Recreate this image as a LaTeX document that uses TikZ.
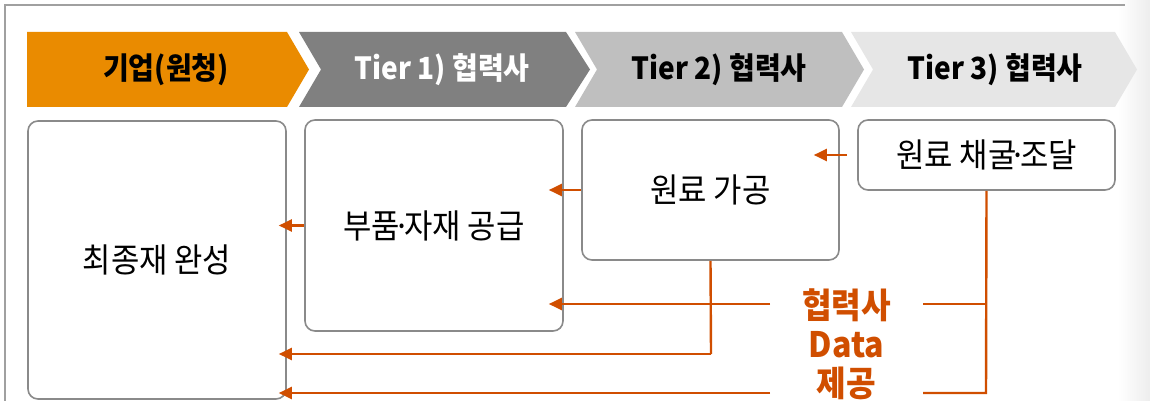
\documentclass[tikz,border=0pt]{standalone}
\usepackage{fontspec}
\setmainfont{Noto Sans CJK KR}[FakeStretch=0.92]
\usetikzlibrary{arrows.meta}
\definecolor{chevA}{HTML}{EA8B00}
\definecolor{chevB}{HTML}{808080}
\definecolor{chevC}{HTML}{BFBFBF}
\definecolor{chevD}{HTML}{E6E6E6}
\definecolor{flow}{HTML}{D04E00}
\definecolor{boxline}{HTML}{8A8A8A}
\definecolor{frameline}{HTML}{A0A0A0}
\newcommand{\mdot}{\kern-0.2em·\kern-0.2em}
\tikzset{
  stagebox/.style={draw=boxline, line width=1.6pt, rounded corners=10pt, fill=white, inner sep=0pt,
    font=\fontsize{33.5}{38}\selectfont},
  chevtext/.style={font=\bfseries\fontsize{30.5}{34}\selectfont, inner sep=0pt},
  flowarrow/.style={draw=flow, line width=2.4pt, -{Triangle[length=13pt,width=12pt]}},
  flowline/.style={draw=flow, line width=2.4pt},
  datatext/.style={text=flow, font=\bfseries\fontsize{35}{39}\selectfont, align=center, inner sep=0pt}
}
\begin{document}
\begin{tikzpicture}[x=1pt,y=-1pt]
\useasboundingbox (0,0) rectangle (1150,401);
% right shadow
\shade[left color=white, right color=black!7] (1118,0) rectangle (1150,401);
% frame
\draw[frameline, line width=1.4pt] (5,401) -- (5,5) -- (1125,5);
% chevrons
\fill[chevA] (27,32) -- (287,32) -- (309,69.5) -- (287,107) -- (27,107) -- cycle;
\fill[chevB] (299,32) -- (566,32) -- (590,69.5) -- (566,107) -- (299,107) -- (321,69.5) -- cycle;
\fill[chevC] (575,32) -- (842,32) -- (864,69.5) -- (842,107) -- (575,107) -- (597,69.5) -- cycle;
\fill[chevD] (851,32) -- (1115,32) -- (1137,69.5) -- (1115,107) -- (851,107) -- (873,69.5) -- cycle;
\node[chevtext, text=black] (h0) at (166,70) {기업(원청)};
\node[chevtext, text=white] (h1) at (442,70) {Tier 1) 협력사};
\node[chevtext, text=black] (h2) at (719,70) {Tier 2) 협력사};
\node[chevtext, text=black] (h3) at (995,70) {Tier 3) 협력사};
% boxes
\node[stagebox, minimum width=258pt, minimum height=278pt] (A) at (157,260) {최종재 완성};
\node[stagebox, minimum width=258pt, minimum height=211pt] (B) at (434,225.5) {부품\mdot 자재 공급};
\node[stagebox, minimum width=257pt, minimum height=140pt] (C) at (710.5,190) {원료 가공};
\node[stagebox, minimum width=257pt, minimum height=70pt] (D) at (986.5,155) {원료 채굴\mdot 조달};
% data label
\node[datatext] (dt) at (846.5,344) {협력사\\Data\\제공};
% named points
\coordinate (d1) at (986,304);
\coordinate (d2) at (986,393);
\coordinate (g1r) at (923,304);
\coordinate (g2r) at (923,393);
\coordinate (g1l) at (770,304);
\coordinate (g2l) at (770,393);
\coordinate (c1) at (711,354);
% forward arrows
\draw[flowarrow] ([xshift=-10pt]D.west) -- ([xshift=-26pt]C.east |- D.west);
\draw[flowarrow] (C.west) -- ([xshift=-15pt]B.east |- C.west);
\draw[flowarrow] (B.west) -- ([xshift=-8pt]A.east |- B.west);
% data feedback lines
\draw[flowline] (D.south) -- (d2) -- (g2r);
\draw[flowline] (d1) -- (g1r);
\draw[flowarrow] (g1l) -- ([xshift=-15pt]B.east |- g1l);
\draw[flowline] (C.south) -- (c1);
\draw[flowarrow] (c1) -- ([xshift=-8pt]A.east |- c1);
\draw[flowarrow] (g2l) -- ([xshift=-8pt]A.east |- g2l);
\end{tikzpicture}
\end{document}
